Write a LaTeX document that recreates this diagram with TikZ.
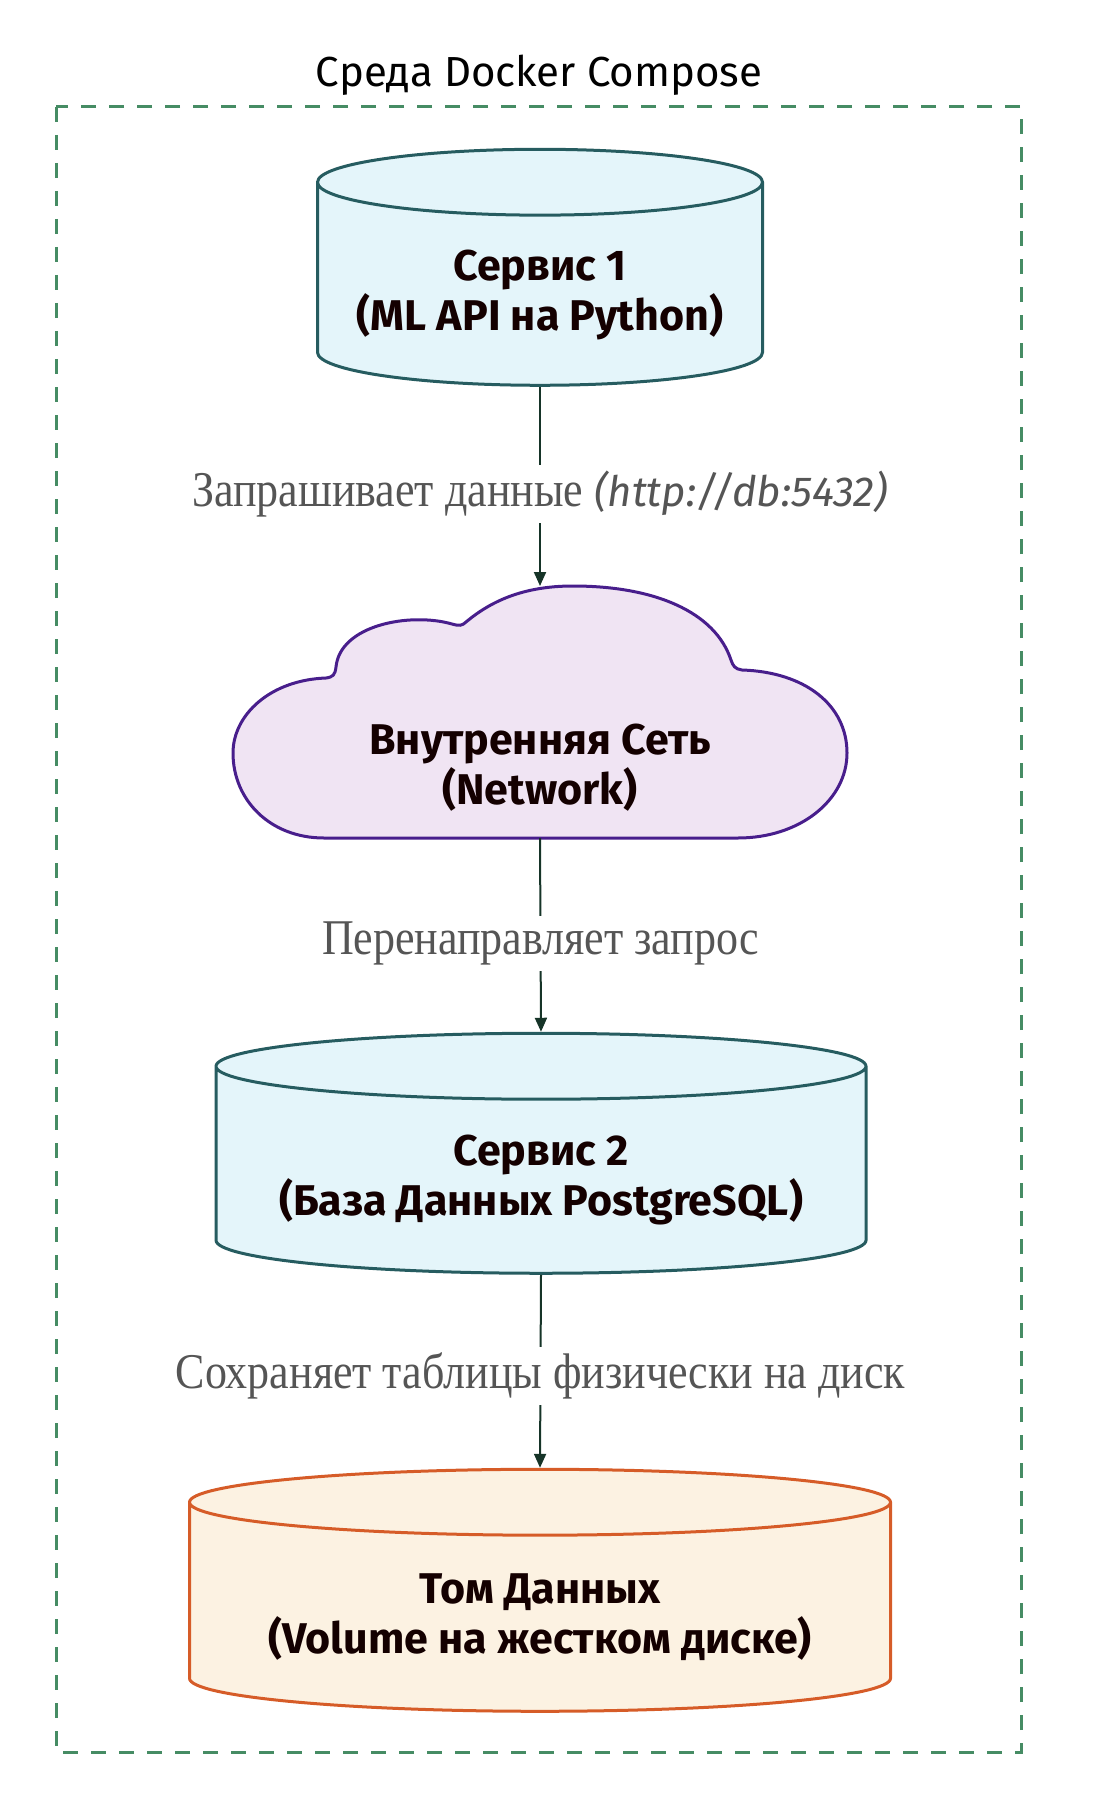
\documentclass[tikz,border=0pt]{standalone}
\usepackage{fontspec}
\setmainfont{Liberation Serif}
\setsansfont{Fira Sans}
\newfontfamily\edgefont{Liberation Serif}[FakeStretch=0.88]
\usetikzlibrary{shapes.geometric,arrows.meta}
\definecolor{svcfill}{RGB}{228,245,250}
\definecolor{svcline}{RGB}{38,92,96}
\definecolor{volfill}{RGB}{252,242,226}
\definecolor{volline}{RGB}{214,92,40}
\definecolor{netfill}{RGB}{240,228,243}
\definecolor{netline}{RGB}{72,30,140}
\definecolor{framegreen}{RGB}{70,140,100}
\definecolor{flowline}{RGB}{22,52,40}
\definecolor{lblgray}{RGB}{85,85,85}
\begin{document}
\begin{tikzpicture}[x=0.5pt,y=-0.5pt,
  bold/.style={align=center, font=\sffamily\bfseries\fontsize{21.5}{25}\selectfont, text=black!92!red},
  box/.style={cylinder, shape border rotate=90, draw, line width=1.5pt, inner sep=0pt},
  svc/.style={box, draw=svcline, fill=svcfill},
  vol/.style={box, draw=volline, fill=volfill},
  flow/.style={draw=flowline, line width=1pt, -{Triangle[length=7pt,width=6pt]}},
  lbl/.style={fill=white, inner sep=3pt, text=lblgray, font=\edgefont\fontsize{25}{28}\selectfont}]
\useasboundingbox (0,0) rectangle (1102,1808);

\draw[framegreen, line width=1.5pt, dash pattern=on 7.5pt off 6.5pt] (56,107) rectangle (1021,1752);
\node[font=\sffamily\fontsize{21}{24}\selectfont] (title) at (539,75) {Среда Docker Compose};

\node[svc, aspect=0.148, text width=222.5pt, minimum height=118pt] (api) at (540,284.5) {};
\node[bold] (apitext) at (540,295) {Сервис 1\\(ML API на Python)};

\draw[netline, fill=netfill, line width=1.5pt] (324,838) -- (738,838)
  .. controls (800,838) and (847,800) .. (847,753)
  .. controls (847,705) and (805,672) .. (742,670)
  .. controls (735,669) and (733,666) .. (731,660)
  .. controls (715,612) and (655,586) .. (573,586)
  .. controls (522,586) and (490,602) .. (466,622)
  .. controls (462,626) and (459,626) .. (452,624)
  .. controls (410,612) and (340,625) .. (336,667)
  .. controls (335,675) and (333,677) .. (326,678)
  .. controls (270,680) and (233,715) .. (233,753)
  .. controls (233,800) and (270,838) .. (324,838) -- cycle;
\node[bold] (net) at (540,768) {Внутренняя Сеть\\(Network)};
\coordinate (nettop) at (540,586);
\coordinate (netbot) at (540,838);

\node[svc, aspect=0.1015, text width=325pt, minimum height=120pt] (db) at (541,1170.5) {};
\node[bold] (dbtext) at (541,1180) {Сервис 2\\(База Данных PostgreSQL)};

\node[vol, aspect=0.094, text width=350.5pt, minimum height=121pt] (disk) at (540,1607.5) {};
\node[bold] (disktext) at (540,1617) {Том Данных\\(Volume на жестком диске)};

\draw[flow] (api.south) -- node[lbl, pos=0.54] {Запрашивает данные {\sffamily\itshape\fontsize{21}{24}\selectfont(http://db:5432)}} (nettop);
\draw[flow] (netbot) -- node[lbl, pos=0.544] {Перенаправляет запрос} (db.north);
\draw[flow] (db.south) -- node[lbl, pos=0.524] {Сохраняет таблицы физически на диск} (disk.north);
\end{tikzpicture}
\end{document}
